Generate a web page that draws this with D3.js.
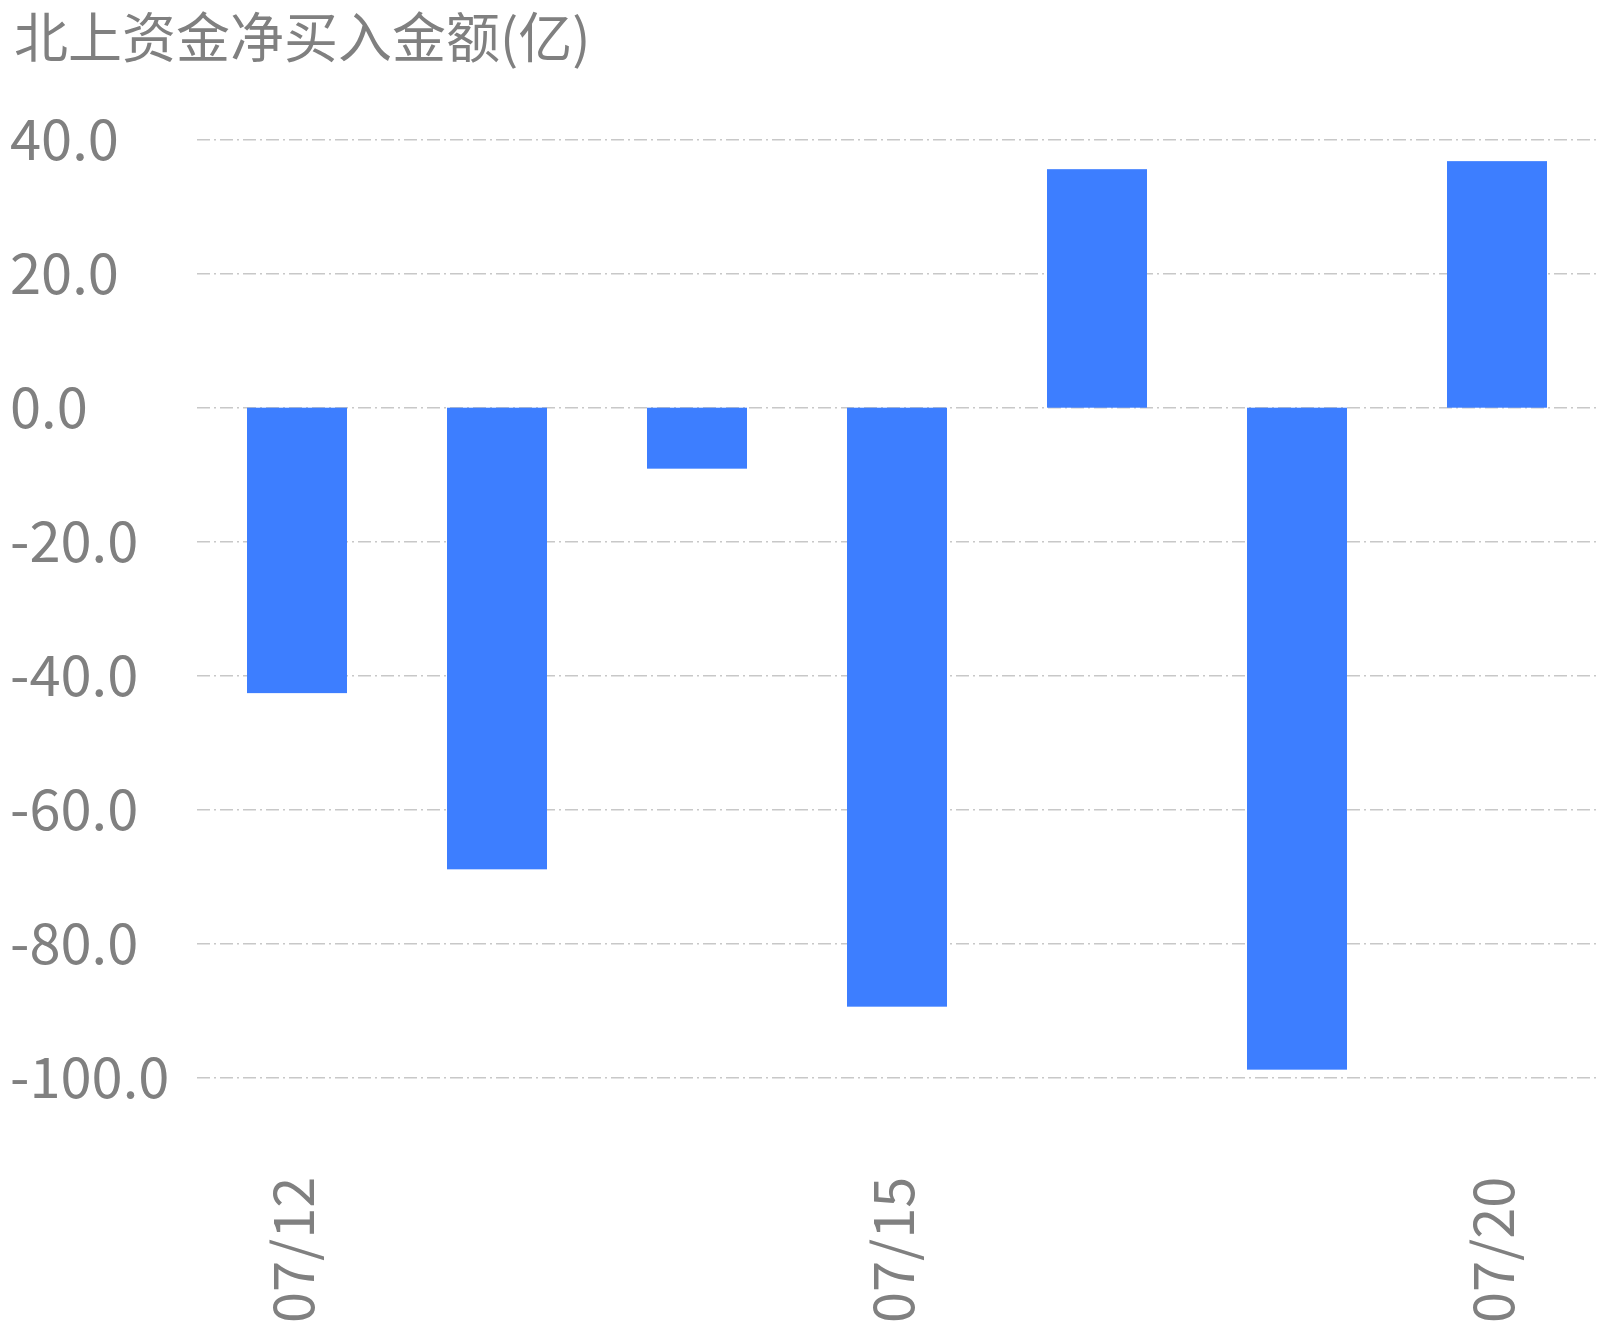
<!DOCTYPE html>
<html>
<head>
<meta charset="utf-8">
<script src="https://cdn.jsdelivr.net/npm/d3@7"></script>
<style>
html,body{margin:0;padding:0;background:#fff;}
svg{display:block;}
text{font-family:"Noto Sans CJK SC","Noto Sans",sans-serif;fill:#808080;}
</style>
</head>
<body>
<svg id="chart" width="1606" height="1330"></svg>
<script>
const title = "北上资金净买入金额(亿)";
const categories = ["07/12","07/13","07/14","07/15","07/16","07/19","07/20"];
const values = [-42.6, -68.9, -9.1, -89.4, 35.6, -98.8, 36.8];
const shownTicks = ["07/12","07/15","07/20"];
const yTicks = [40, 20, 0, -20, -40, -60, -80, -100];

const svg = d3.select("#chart");
const margin = {left: 197, right: 9, top: 139.7, bottom: 1330 - 1077.7};
const W = 1606, H = 1330;

const x = d3.scaleBand().domain(categories).range([margin.left, W - margin.right]).paddingInner(0.5).paddingOuter(0.25);
const y = d3.scaleLinear().domain([-100, 40]).range([H - margin.bottom, margin.top]);

svg.append("text").attr("x", 14).attr("y", 58).attr("font-size", 54).text(title);

// grid
const grid = svg.append("g");
grid.selectAll("line").data(yTicks).join("line")
  .attr("x1", margin.left).attr("x2", W - margin.right)
  .attr("y1", d => y(d)).attr("y2", d => y(d))
  .attr("stroke", "#c8c8c8").attr("stroke-width", 1.5)
  .attr("stroke-dasharray", "13,4,2,4");

// y axis labels
const fmt = d => d3.format(".1f")(d).replace("\u2212", "-");
const yAxis = d3.axisLeft(y).tickValues(yTicks).tickFormat(fmt).tickSize(0).tickPadding(0);
const yg = svg.append("g").attr("transform", "translate(10,0)").call(yAxis);
yg.select(".domain").remove();
yg.selectAll("text").attr("text-anchor", "start").attr("font-size", 56).attr("fill", "#808080").attr("dy", "0.36em")
  .style("font-family", '"Noto Sans CJK SC","Noto Sans",sans-serif');

// bars
svg.append("g").selectAll("rect").data(categories).join("rect")
  .attr("x", d => x(d)).attr("width", x.bandwidth())
  .attr("y", (d, i) => y(Math.max(0, values[i])))
  .attr("height", (d, i) => Math.abs(y(values[i]) - y(0)))
  .attr("fill", "#3d7eff");

// x axis labels
const xAxis = d3.axisBottom(x).tickValues(shownTicks).tickSize(0).tickPadding(0);
const xg = svg.append("g").attr("transform", `translate(0,${H - margin.bottom})`).call(xAxis);
xg.select(".domain").remove();
xg.selectAll(".tick text")
  .attr("font-size", 56).attr("fill", "#808080")
  .style("font-family", '"Noto Sans CJK SC","Noto Sans",sans-serif')
  .attr("text-anchor", "end")
  .attr("transform", "translate(17,99) rotate(-90)")
  .attr("x", 0).attr("y", 0).attr("dy", 0);
</script>
</body>
</html>
